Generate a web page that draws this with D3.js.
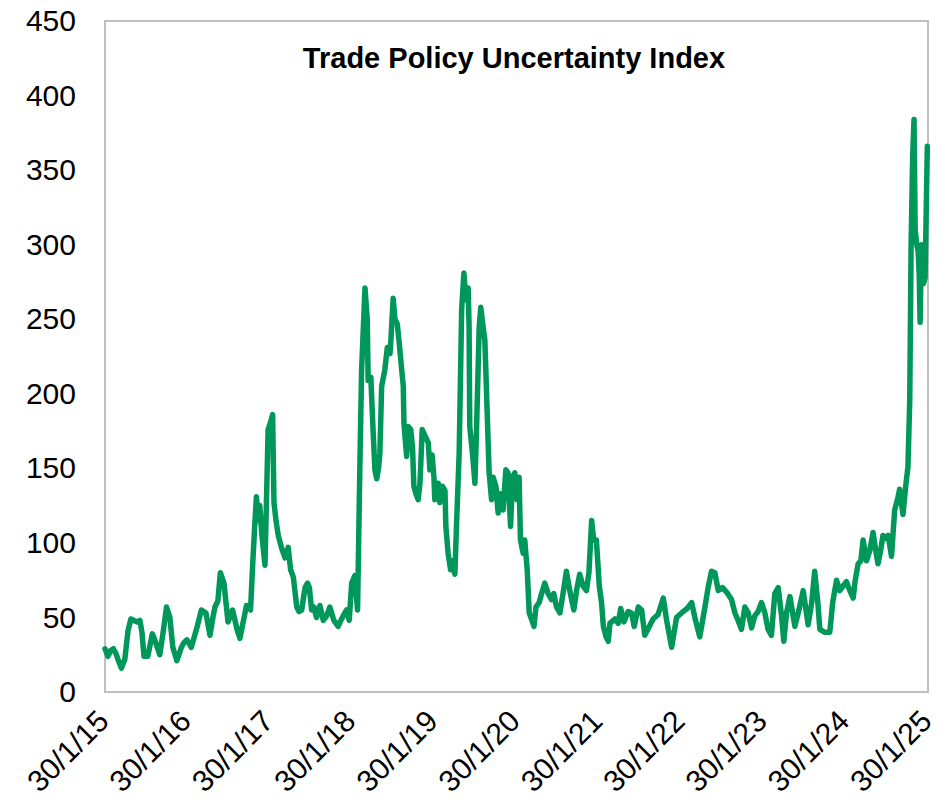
<!DOCTYPE html>
<html>
<head>
<meta charset="utf-8">
<script src="https://cdn.jsdelivr.net/npm/d3@7"></script>
<style>
  html, body { margin: 0; padding: 0; background: #ffffff; }
  svg { display: block; }
  text { font-family: "Liberation Sans", Arial, sans-serif; fill: #000; }
</style>
</head>
<body>
<svg id="chart" width="945" height="808"></svg>
<script>
// Trade Policy Uncertainty Index, weekly readings
const dates = [
  "2015-01-30","2015-02-12","2015-02-25","2015-03-08","2015-03-19","2015-04-02","2015-04-13","2015-04-28",
  "2015-05-12","2015-05-25","2015-06-07","2015-06-20","2015-07-04","2015-07-13","2015-07-22","2015-08-08",
  "2015-08-28","2015-09-08","2015-09-19","2015-09-30","2015-10-14","2015-10-30","2015-11-14","2015-11-27",
  "2015-12-15","2016-01-04","2016-01-15","2016-01-29","2016-02-17","2016-03-11","2016-04-02","2016-04-22",
  "2016-05-10","2016-05-23","2016-06-01","2016-06-14","2016-06-25","2016-07-11","2016-07-20","2016-07-29",
  "2016-08-18","2016-08-29","2016-09-07","2016-09-20","2016-10-03","2016-10-19","2016-11-06","2016-11-15",
  "2016-11-24","2016-12-02","2016-12-11","2016-12-17","2016-12-26","2017-01-09","2017-01-23","2017-02-05",
  "2017-02-12","2017-02-18","2017-02-27","2017-03-09","2017-03-23","2017-04-08","2017-04-22","2017-05-03",
  "2017-05-15","2017-05-30","2017-06-09","2017-06-21","2017-07-06","2017-07-17","2017-07-25","2017-08-04",
  "2017-08-14","2017-08-26","2017-09-10","2017-09-25","2017-10-10","2017-10-24","2017-11-11","2017-11-30",
  "2017-12-12","2017-12-22","2018-01-06","2018-01-18","2018-01-29","2018-02-12","2018-02-24","2018-03-06",
  "2018-03-14","2018-03-29","2018-04-08","2018-04-12","2018-04-24","2018-05-02","2018-05-12","2018-05-20",
  "2018-05-28","2018-06-03","2018-06-11","2018-06-25","2018-07-06","2018-07-18","2018-07-22","2018-08-01",
  "2018-08-09","2018-08-19","2018-08-28","2018-09-08","2018-09-15","2018-09-18","2018-09-30","2018-10-07",
  "2018-10-18","2018-10-26","2018-11-01","2018-11-10","2018-11-20","2018-11-28","2018-12-08","2018-12-23",
  "2019-01-04","2019-01-11","2019-01-21","2019-01-29","2019-02-02","2019-02-17","2019-02-24","2019-03-08",
  "2019-03-19","2019-03-23","2019-04-02","2019-04-13","2019-04-22","2019-05-02","2019-05-09","2019-05-21",
  "2019-06-01","2019-06-11","2019-06-20","2019-06-30","2019-07-04","2019-07-07","2019-07-19","2019-07-30",
  "2019-08-06","2019-08-18","2019-08-25","2019-09-04","2019-09-12","2019-09-22","2019-10-01","2019-10-12",
  "2019-10-19","2019-10-31","2019-11-10","2019-11-20","2019-12-02","2019-12-14","2019-12-24","2020-01-04",
  "2020-01-13","2020-01-23","2020-02-02","2020-02-11","2020-02-17","2020-02-29","2020-03-07","2020-03-18",
  "2020-03-27","2020-04-08","2020-04-17","2020-04-26","2020-05-10","2020-05-21","2020-06-04","2020-06-19",
  "2020-07-04","2020-07-14","2020-07-26","2020-08-10","2020-08-24","2020-09-08","2020-09-23","2020-10-11",
  "2020-10-23","2020-11-06","2020-11-21","2020-12-06","2020-12-17","2020-12-29","2021-01-07","2021-01-19",
  "2021-02-01","2021-02-11","2021-02-19","2021-03-03","2021-03-13","2021-03-20","2021-04-11","2021-04-26",
  "2021-05-07","2021-05-21","2021-06-09","2021-06-24","2021-07-06","2021-07-24","2021-08-08","2021-08-22",
  "2021-09-11","2021-09-28","2021-10-20","2021-11-12","2021-11-27","2021-12-19","2022-01-10","2022-02-01",
  "2022-02-26","2022-03-18","2022-04-01","2022-04-23","2022-05-16","2022-05-30","2022-06-14","2022-06-29",
  "2022-07-14","2022-08-02","2022-08-20","2022-09-11","2022-09-26","2022-10-10","2022-10-25","2022-11-09",
  "2022-11-24","2022-12-09","2022-12-23","2023-01-07","2023-01-22","2023-02-06","2023-02-20","2023-03-07",
  "2023-03-22","2023-04-06","2023-04-21","2023-05-01","2023-05-13","2023-05-28","2023-06-19","2023-07-07",
  "2023-07-26","2023-08-17","2023-09-02","2023-09-15","2023-09-29","2023-10-08","2023-10-30","2023-11-21",
  "2023-12-04","2023-12-21","2024-01-04","2024-01-19","2024-02-03","2024-02-18","2024-03-04","2024-03-13",
  "2024-03-26","2024-04-07","2024-04-17","2024-05-02","2024-05-17","2024-05-31","2024-06-12","2024-06-22",
  "2024-07-04","2024-07-14","2024-07-26","2024-08-06","2024-08-21","2024-09-04","2024-09-18","2024-09-26",
  "2024-10-11","2024-10-23","2024-11-02","2024-11-10","2024-11-16","2024-11-23","2024-11-29","2024-12-04",
  "2024-12-11","2024-12-17","2024-12-22","2024-12-26","2025-01-01","2025-01-10","2025-01-17","2025-01-27"
];

const tpuValues = [
  29, 24, 28, 29, 26, 20, 16, 22,
  41, 49, 48, 47, 48, 40, 24, 24,
  39, 35, 30, 25, 39, 57, 50, 30,
  21, 30, 33, 35, 30, 42, 55, 53,
  38, 50, 57, 61, 80, 73, 60, 47,
  55, 48, 42, 36, 46, 58, 55, 84,
  110, 131, 115, 125, 106, 85, 176, 182,
  186, 127, 115, 105, 97, 90, 97, 82,
  77, 57, 54, 55, 70, 73, 70, 55,
  57, 50, 58, 48, 51, 57, 48, 44,
  48, 51, 55, 48, 73, 78, 55, 149,
  216, 271, 250, 209, 211, 182, 149, 143,
  150, 160, 205, 216, 231, 227, 236, 264,
  250, 247, 234, 216, 205, 180, 158, 178,
  176, 164, 138, 133, 129, 140, 176, 171,
  167, 149, 159, 144, 129, 140, 127, 138,
  135, 111, 93, 82, 88, 79, 111, 160,
  256, 281, 263, 271, 245, 178, 160, 140,
  176, 245, 258, 245, 236, 189, 147, 129,
  144, 138, 120, 133, 122, 149, 147, 111,
  144, 147, 129, 144, 102, 93, 102, 82,
  53, 48, 44, 57, 60, 66, 73, 66,
  62, 66, 57, 53, 66, 81, 68, 55,
  68, 79, 71, 68, 80, 115, 102, 102,
  71, 60, 44, 37, 34, 46, 49, 46,
  56, 47, 54, 53, 44, 57, 55, 38,
  44, 49, 52, 63, 48, 30, 50, 53,
  56, 60, 50, 37, 57, 70, 81, 80,
  68, 70, 67, 62, 53, 48, 42, 57,
  53, 43, 51, 54, 60, 53, 42, 38,
  66, 70, 51, 34, 53, 64, 44, 55,
  68, 45, 60, 81, 60, 42, 40, 40,
  60, 75, 68, 71, 74, 68, 63, 75,
  86, 88, 102, 88, 95, 107, 95, 86,
  95, 105, 103, 105, 91, 122, 130, 136,
  119, 138, 151, 196, 300, 360, 384, 310,
  300, 296, 280, 248, 300, 274, 278, 366
];

const xTickDates = ["2015-01-30","2016-01-30","2017-01-30","2018-01-30","2019-01-30","2020-01-30",
                    "2021-01-30","2022-01-30","2023-01-30","2024-01-30","2025-01-30"];
const xTickLabels = ["30/1/15","30/1/16","30/1/17","30/1/18","30/1/19","30/1/20",
                     "30/1/21","30/1/22","30/1/23","30/1/24","30/1/25"];
const yTicks = [0, 50, 100, 150, 200, 250, 300, 350, 400, 450];
const chartTitle = "Trade Policy Uncertainty Index";

const parse = d3.timeParse("%Y-%m-%d");
const series = dates.map((d, i) => ({ date: parse(d), value: tpuValues[i] }));

const margin = { top: 21, right: 17, bottom: 116, left: 105 };
const width = 945, height = 808;
const plotW = width - margin.left - margin.right;
const plotH = height - margin.top - margin.bottom;

const svg = d3.select("#chart");

const x = d3.scaleTime()
  .domain([parse(xTickDates[0]), parse(xTickDates[xTickDates.length - 1])])
  .range([margin.left, margin.left + plotW]);

const y = d3.scaleLinear()
  .domain([0, 450])
  .range([margin.top + plotH, margin.top]);

// plot frame
svg.append("rect")
  .attr("x", margin.left)
  .attr("y", margin.top)
  .attr("width", plotW)
  .attr("height", plotH)
  .attr("fill", "none")
  .attr("stroke", "#BFBFBF")
  .attr("stroke-width", 2);

// y axis labels
const yAxis = d3.axisLeft(y).tickValues(yTicks).tickSize(0).tickPadding(29);
svg.append("g")
  .attr("transform", `translate(${margin.left},0)`)
  .call(yAxis)
  .call(g => g.select(".domain").remove())
  .selectAll("text")
  .style("font-family", "'Liberation Sans', Arial, sans-serif")
  .style("font-size", "30px")
  .attr("fill", "#000");

// x axis labels, rotated
const xAxis = d3.axisBottom(x)
  .tickValues(xTickDates.map(parse))
  .tickFormat((d, i) => xTickLabels[i])
  .tickSize(0);
svg.append("g")
  .attr("transform", `translate(0,${margin.top + plotH})`)
  .call(xAxis)
  .call(g => g.select(".domain").remove())
  .selectAll("text")
  .style("font-family", "'Liberation Sans', Arial, sans-serif")
  .style("font-size", "30px")
  .attr("fill", "#000")
  .attr("text-anchor", "end")
  .attr("dy", null)
  .attr("y", null)
  .attr("transform", "translate(5,31) rotate(-45)");

// index line
const line = d3.line()
  .x(d => x(d.date))
  .y(d => y(d.value));

svg.append("path")
  .datum(series)
  .attr("fill", "none")
  .attr("stroke", "#00985A")
  .attr("stroke-width", 5.5)
  .attr("stroke-linejoin", "round")
  .attr("stroke-linecap", "round")
  .attr("d", line);

// title
svg.append("text")
  .attr("x", 514)
  .attr("y", 68)
  .attr("text-anchor", "middle")
  .style("font-weight", "bold")
  .style("font-size", "29px")
  .text(chartTitle);
</script>
</body>
</html>
